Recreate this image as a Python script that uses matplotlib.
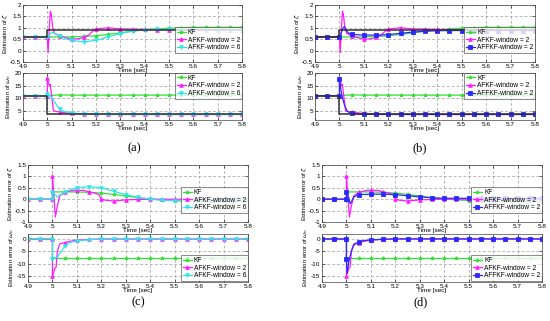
import numpy as np
import matplotlib
matplotlib.use("Agg")
import matplotlib.pyplot as plt
from matplotlib.ticker import FormatStrFormatter

# true parameter (black line)
t_true = [4.9, 5.0, 5.0, 5.8]
zeta_true = [0.6, 0.6, 0.92, 0.92]
wn_true = [11.0, 11.0, 3.5, 3.5]

# KF
t_kf = [4.9, 4.95, 5.0, 5.0, 5.05, 5.1, 5.15, 5.2, 5.25, 5.3, 5.35, 5.4, 5.45, 5.5, 5.55, 5.6, 5.65, 5.7, 5.75, 5.8]
zeta_kf = [0.6, 0.6, 0.6, 0.6, 0.6, 0.6, 0.62, 0.65, 0.71, 0.78, 0.85, 0.91, 0.95, 0.98, 1.01, 1.02, 1.02, 1.02, 1.02, 1.02]
wn_kf = [11.0, 11.0, 11.0, 11.0, 11.3, 11.2, 11.2, 11.2, 11.2, 11.2, 11.2, 11.2, 11.2, 11.2, 11.2, 11.2, 11.2, 11.2, 11.2, 11.2]
ezeta_kf = [0, 0, 0, 0.32, 0.32, 0.32, 0.3, 0.27, 0.21, 0.14, 0.07, 0.01, -0.03, -0.06, -0.09, -0.1, -0.1, -0.1, -0.1, -0.1]
ewn_kf = [0, 0, 0, -7.8, -7.8, -7.8, -7.8, -7.8, -7.8, -7.8, -7.8, -7.8, -7.8, -7.8, -7.8, -7.8, -7.8, -7.8, -7.8, -7.8]

# AFKF window = 2
t_a2z = [4.9, 4.95, 5.0, 5.003, 5.012, 5.016, 5.022, 5.03, 5.05, 5.08, 5.1, 5.13, 5.15, 5.17, 5.19, 5.2, 5.22, 5.25, 5.28, 5.3,
         5.35, 5.4, 5.45, 5.5, 5.55, 5.6, 5.65, 5.7, 5.75, 5.8]
zeta_a2 = [0.6, 0.6, 0.6, -0.1, 1.72, 1.6, 1.0, 0.75, 0.65, 0.55, 0.5, 0.52, 0.58, 0.68, 0.88, 0.95, 0.97, 1.0, 0.97, 0.95,
           0.94, 0.93, 0.92, 0.92, 0.92, 0.92, 0.92, 0.92, 0.92, 0.92]
t_a2w = [4.9, 4.95, 5.0, 5.0, 5.008, 5.012, 5.02, 5.025, 5.035, 5.05, 5.07, 5.1, 5.15, 5.2, 5.25, 5.3, 5.35, 5.4, 5.45, 5.5,
         5.55, 5.6, 5.65, 5.7, 5.75, 5.8]
wn_a2 = [11, 11, 11, 18, 15, 15.5, 9, 5, 4.7, 4.5, 4.2, 3.9, 3.7, 3.6, 3.5, 3.5, 3.5, 3.5, 3.5, 3.5,
         3.5, 3.5, 3.5, 3.5, 3.5, 3.5]
t_ea2z = [4.9, 4.95, 5.0, 5.0, 5.012, 5.02, 5.03, 5.05, 5.08, 5.1, 5.13, 5.15, 5.17, 5.19, 5.2, 5.22, 5.25, 5.28, 5.3, 5.35,
          5.4, 5.45, 5.5, 5.55, 5.6, 5.65, 5.7, 5.75, 5.8]
ezeta_a2 = [0, 0, 0, 1.0, -0.78, -0.3, 0.15, 0.3, 0.38, 0.4, 0.38, 0.32, 0.28, 0.2, 0.0, -0.05, -0.08, -0.05, -0.03, -0.01,
            0, 0, 0, 0, 0, 0, 0, 0, 0]
t_ea2w = [4.9, 4.95, 5.0, 5.0, 5.01, 5.015, 5.02, 5.03, 5.05, 5.07, 5.1, 5.15, 5.2, 5.25, 5.3, 5.35, 5.4, 5.45, 5.5, 5.55,
          5.6, 5.65, 5.7, 5.75, 5.8]
ewn_a2 = [0, 0, 0, -15, -12, -11.5, -5, -2, -1.5, -1.0, -0.5, -0.2, 0, 0, 0, 0, 0, 0, 0, 0,
          0, 0, 0, 0, 0]

# AFKF window = 6
t_a6z = [4.9, 4.95, 5.0, 5.01, 5.02, 5.03, 5.05, 5.08, 5.1, 5.15, 5.2, 5.25, 5.3, 5.35, 5.4, 5.45, 5.5, 5.55, 5.6, 5.65,
         5.7, 5.75, 5.8]
zeta_a6 = [0.6, 0.6, 0.6, 0.72, 0.8, 0.75, 0.65, 0.5, 0.45, 0.38, 0.45, 0.6, 0.75, 0.86, 0.92, 0.93, 0.93, 0.92, 0.92, 0.92,
           0.92, 0.92, 0.92]
t_a6w = [4.9, 4.95, 5.0, 5.0, 5.01, 5.02, 5.03, 5.04, 5.05, 5.06, 5.08, 5.1, 5.15, 5.2, 5.25, 5.3, 5.35, 5.4, 5.45, 5.5,
         5.55, 5.6, 5.65, 5.7, 5.75, 5.8]
wn_a6 = [11, 11, 11, 11.8, 11, 10, 8.5, 7, 5.5, 5, 4.5, 4.1, 3.7, 3.6, 3.5, 3.5, 3.5, 3.5, 3.5, 3.5,
         3.5, 3.5, 3.5, 3.5, 3.5, 3.5]
t_ea6z = [4.9, 4.95, 5.0, 5.0, 5.01, 5.02, 5.03, 5.05, 5.08, 5.1, 5.15, 5.2, 5.25, 5.3, 5.35, 5.4, 5.45, 5.5, 5.55, 5.6,
          5.65, 5.7, 5.75, 5.8]
ezeta_a6 = [0, 0, 0, 0.32, 0.2, 0.1, 0.17, 0.3, 0.45, 0.5, 0.55, 0.5, 0.35, 0.2, 0.08, 0.0, -0.05, -0.06, -0.05, -0.04,
            -0.03, -0.02, -0.01, 0]
t_ea6w = [4.9, 4.95, 5.0, 5.0, 5.02, 5.03, 5.04, 5.05, 5.07, 5.1, 5.15, 5.2, 5.25, 5.3, 5.35, 5.4, 5.45, 5.5, 5.55, 5.6,
          5.65, 5.7, 5.75, 5.8]
ewn_a6 = [0, 0, 0, -8, -7.5, -6, -4.5, -3, -1.5, -0.8, -0.3, 0, 0, 0, 0, 0, 0, 0, 0, 0,
          0, 0, 0, 0]

# AFFKF window = 2
t_f2z = [4.9, 4.95, 5.0, 5.01, 5.015, 5.02, 5.03, 5.04, 5.05, 5.07, 5.1, 5.15, 5.2, 5.25, 5.3, 5.35, 5.4, 5.45, 5.5, 5.55,
         5.6, 5.65, 5.7, 5.75, 5.8]
zeta_f2 = [0.6, 0.6, 0.6, 0.85, 1.0, 1.05, 0.85, 0.75, 0.72, 0.7, 0.68, 0.68, 0.7, 0.76, 0.81, 0.85, 0.87, 0.88, 0.88, 0.88,
           0.88, 0.88, 0.88, 0.88, 0.88]
t_f2w = [4.9, 4.95, 5.0, 5.0, 5.005, 5.01, 5.02, 5.03, 5.04, 5.05, 5.07, 5.1, 5.15, 5.2, 5.25, 5.3, 5.35, 5.4, 5.45, 5.5,
         5.55, 5.6, 5.65, 5.7, 5.75, 5.8]
wn_f2 = [11, 11, 11, 17.5, 14, 11, 7.5, 5, 4.2, 3.9, 3.7, 3.6, 3.5, 3.5, 3.5, 3.5, 3.5, 3.5, 3.5, 3.5,
         3.5, 3.5, 3.5, 3.5, 3.5, 3.5]
t_ef2z = [4.9, 4.95, 5.0, 5.0, 5.01, 5.015, 5.02, 5.03, 5.05, 5.1, 5.15, 5.2, 5.25, 5.3, 5.35, 5.4, 5.45, 5.5, 5.55, 5.6,
          5.65, 5.7, 5.75, 5.8]
ezeta_f2 = [0, 0, 0, 0.3, 0.05, -0.2, -0.12, 0.1, 0.2, 0.22, 0.22, 0.2, 0.15, 0.1, 0.06, 0.04, 0.04, 0.04, 0.04, 0.04,
            0.04, 0.04, 0.04, 0.04]
t_ef2w = [4.9, 4.95, 5.0, 5.0, 5.003, 5.01, 5.02, 5.03, 5.05, 5.07, 5.1, 5.15, 5.2, 5.25, 5.3, 5.35, 5.4, 5.45, 5.5, 5.55,
          5.6, 5.65, 5.7, 5.75, 5.8]
ewn_f2 = [0, 0, 0, -8, -14, -9, -5, -2.5, -1.2, -0.7, -0.4, -0.1, 0, 0, 0, 0, 0, 0, 0, 0,
          0, 0, 0, 0, 0]

x_ticks = [4.9, 5.0, 5.1, 5.2, 5.3, 5.4, 5.5, 5.6, 5.7, 5.8]
lbl_kf = 'KF'
lbl_a2 = 'AFKF-window = 2'
lbl_a6 = 'AFKF-window = 6'
lbl_f2 = 'AFFKF-window = 2'

C_KF = '#33e033'
C_A2 = '#ff1aff'
C_A6 = '#2ee6e6'
C_F2 = '#2a2aff'
C_TRUE = '#303030'

plt.rcParams['font.family'] = ['Liberation Sans', 'DejaVu Sans']
plt.rcParams['mathtext.fontset'] = 'dejavusans'

W, H = 550, 321
fig = plt.figure(figsize=(W / 100, H / 100), dpi=100)


def mk_axes(l, t, r, b):
    ax = fig.add_axes([l / W, 1 - b / H, (r - l) / W, (b - t) / H])
    ax.set_facecolor('none')
    return ax


def on_grid(t):
    t = np.asarray(t)
    return list(np.abs(t * 20 - np.round(t * 20)) < 1e-6)


def serie(ax, t, v, color, marker, label):
    ax.plot(t, v, color=color, lw=0.9, marker=marker, ms=2.6, mew=0.6,
            markevery=on_grid(t), label=label)


def style(ax, ylim, yticks, ylabel):
    ax.set_xlim(4.9, 5.8)
    ax.set_ylim(*ylim)
    ax.set_xticks(x_ticks)
    ax.set_yticks(yticks)
    ax.xaxis.set_major_formatter(FormatStrFormatter('%g'))
    ax.yaxis.set_major_formatter(FormatStrFormatter('%g'))
    ax.tick_params(direction='in', length=2, width=0.4, labelsize=4.6, pad=1.2,
                   top=True, right=True)
    for s in ax.spines.values():
        s.set_linewidth(0.5)
        s.set_color('#444444')
    ax.grid(True, ls=(0, (4, 3)), color='#9a9a9a', lw=0.5)
    ax.set_axisbelow(True)
    ax.set_xlabel('Time [sec]', fontsize=4.6, labelpad=-0.5)
    ax.set_ylabel(ylabel, fontsize=4.2, labelpad=0.5)


def legend(ax, loc, anchor):
    lg = ax.legend(loc=loc, bbox_to_anchor=anchor, fontsize=4.8, frameon=True,
                   fancybox=False, borderpad=0.25, labelspacing=0.1,
                   handlelength=1.4, handletextpad=0.3, borderaxespad=0)
    lg.get_frame().set_edgecolor('#333333')
    lg.get_frame().set_linewidth(0.5)
    lg.set_zorder(5)


cols = [(23, 242, 315, 535), (28, 248, 322, 542)]

# (a) and (b)
for k, (third_t, third_z, third_tw, third_w, c3, m3, l3) in enumerate([
        (t_a6z, zeta_a6, t_a6w, wn_a6, C_A6, 'v', lbl_a6),
        (t_f2z, zeta_f2, t_f2w, wn_f2, C_F2, 's', lbl_f2)]):
    l, r = cols[0][2 * k], cols[0][2 * k + 1]
    ax = mk_axes(l, 5, r, 62)
    serie(ax, t_kf, zeta_kf, C_KF, '*', lbl_kf)
    serie(ax, t_a2z, zeta_a2, C_A2, '^', lbl_a2)
    serie(ax, third_t, third_z, c3, m3, l3)
    ax.plot(t_true, zeta_true, color=C_TRUE, lw=1.1)
    style(ax, (-0.5, 2), [-0.5, 0, 0.5, 1, 1.5, 2], r'Estimation of $\zeta$')
    legend(ax, 'lower right', (1, 0.16))

    ax = mk_axes(l, 73, r, 120)
    serie(ax, t_kf, wn_kf, C_KF, '*', lbl_kf)
    serie(ax, t_a2w, wn_a2, C_A2, '^', lbl_a2)
    serie(ax, third_tw, third_w, c3, m3, l3)
    ax.plot(t_true, wn_true, color=C_TRUE, lw=1.1)
    style(ax, (1.3, 20), [5, 10, 15, 20], r'Estimation of $\omega_n$')
    legend(ax, 'upper right', (1, 1))

# (c) and (d)
for k, (third_t, third_z, third_tw, third_w, c3, m3, l3) in enumerate([
        (t_ea6z, ezeta_a6, t_ea6w, ewn_a6, C_A6, 'v', lbl_a6),
        (t_ef2z, ezeta_f2, t_ef2w, ewn_f2, C_F2, 's', lbl_f2)]):
    l, r = cols[1][2 * k], cols[1][2 * k + 1]
    ax = mk_axes(l, 165, r, 222)
    serie(ax, t_kf, ezeta_kf, C_KF, '*', lbl_kf)
    serie(ax, t_ea2z, ezeta_a2, C_A2, '^', lbl_a2)
    serie(ax, third_t, third_z, c3, m3, l3)
    style(ax, (-1, 1.5), [-1, -0.5, 0, 0.5, 1, 1.5], r'Estimation error of $\zeta$')
    legend(ax, 'lower right', (1, 0.16))

    ax = mk_axes(l, 234, r, 282)
    serie(ax, t_kf, ewn_kf, C_KF, '*', lbl_kf)
    serie(ax, t_ea2w, ewn_a2, C_A2, '^', lbl_a2)
    serie(ax, third_tw, third_w, c3, m3, l3)
    style(ax, (-17.5, 2), [-15, -10, -5, 0], r'Estimation error of $\omega_n$')
    legend(ax, 'lower right', (1, 0.02))

for txt, x, y in [('(a)', 134, 148), ('(b)', 420, 148), ('(c)', 138, 302), ('(d)', 421, 302)]:
    fig.text(x / W, 1 - y / H, txt, ha='center', va='center', fontsize=9,
             family='Liberation Serif')

fig.savefig('out.png', dpi=100)
